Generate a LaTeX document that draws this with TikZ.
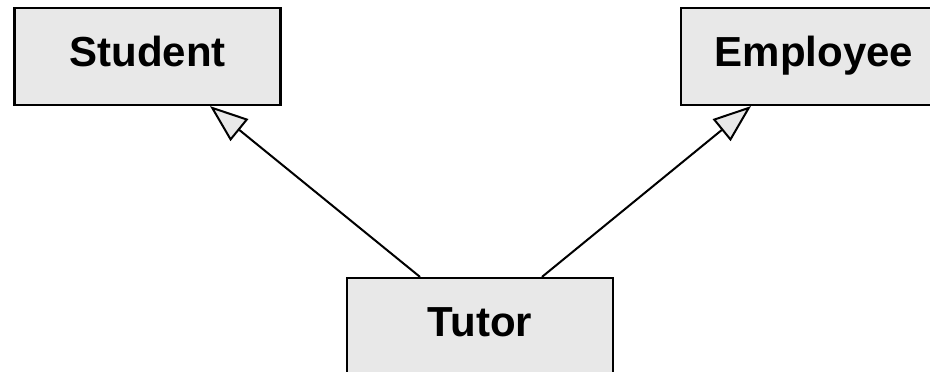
\documentclass[tikz,border=0pt]{standalone}
\usepackage{fontspec}
\setmainfont{Liberation Sans}
\usetikzlibrary{arrows.meta}
\definecolor{boxgray}{HTML}{E8E8E8}
\tikzset{
  classbox/.style={draw=black, fill=boxgray, line width=2.2pt, rectangle,
    minimum width=266pt, minimum height=97pt, inner sep=0pt,
    text height=29pt, text depth=10pt,
    font=\fontsize{42}{48}\selectfont\bfseries},
  genarrow/.style={line width=2pt, -{Triangle[length=38pt,width=28pt,fill=boxgray,line join=miter]}}
}
\begin{document}
\begin{tikzpicture}[x=1pt,y=-1pt]
\useasboundingbox (0,0) rectangle (930,372);
\clip (0,0) rectangle (930,372);
\fill[white] (0,0) rectangle (930,372);
\node[classbox] (student) at (147.5,56.5) {Student};
\node[classbox] (employee) at (814,56.5) {Employee};
\node[classbox] (tutor) at (480,326.5) {Tutor};
\draw[genarrow] ([xshift=-60pt]tutor.north) -- ([xshift=62.5pt]student.south);
\draw[genarrow] ([xshift=62pt]tutor.north) -- ([xshift=-63pt]employee.south);
\end{tikzpicture}
\end{document}
